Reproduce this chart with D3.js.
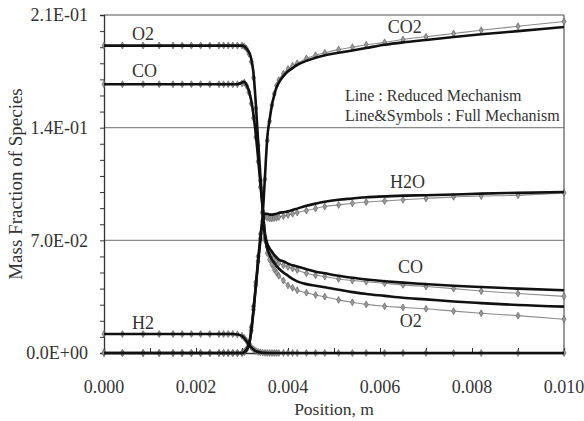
<!DOCTYPE html>
<html><head><meta charset="utf-8">
<script src="https://cdn.jsdelivr.net/npm/d3@7"></script>
<style>
body{margin:0;background:#fff;}
svg{display:block;}
</style></head>
<body><svg id="c" width="584" height="421"></svg>
<script>
// grid positions (m)
const positions = [0, 0.0004, 0.00085, 0.0012, 0.0015, 0.0017, 0.0019, 0.0021, 0.0023, 0.0025,
  0.0026, 0.0027, 0.0028, 0.0029, 0.0030, 0.00305, 0.0031, 0.00315, 0.0032, 0.00325,
  0.0033, 0.00335, 0.0034, 0.00345, 0.0035, 0.00355, 0.0036, 0.00365, 0.0037, 0.00375,
  0.0038, 0.0039, 0.0040, 0.0041, 0.0042, 0.0044, 0.0046, 0.0048, 0.0051, 0.0054,
  0.0057, 0.0061, 0.0065, 0.0070, 0.0076, 0.0082, 0.0090, 0.0100];

// Reduced mechanism (line)
const o2Reduced = [0.191,0.191,0.191,0.191,0.191,0.191,0.191,0.191,0.191,0.191,
  0.191,0.191,0.191,0.191,0.191,0.1905,0.189,0.187,0.183,0.174,
  0.155,0.132,0.110,0.090,0.072,0.065,0.061,0.058,0.056,0.054,
  0.0525,0.050,0.048,0.046,0.0445,0.0428,0.0418,0.0408,0.0393,0.0378,
  0.0367,0.0355,0.0343,0.0333,0.032,0.031,0.0298,0.0288];
const coReduced = [0.167,0.167,0.167,0.167,0.167,0.167,0.167,0.167,0.167,0.167,
  0.167,0.167,0.167,0.167,0.168,0.1685,0.1665,0.163,0.157,0.148,
  0.136,0.121,0.105,0.089,0.074,0.068,0.065,0.063,0.061,0.0595,
  0.058,0.057,0.0555,0.0545,0.0537,0.052,0.0505,0.0495,0.048,0.0467,
  0.0457,0.0446,0.0437,0.0428,0.0418,0.041,0.040,0.039];
const co2Reduced = [0,0,0,0,0,0,0,0,0,0,
  0,0,0,0,0,0.0005,0.002,0.005,0.014,0.027,
  0.042,0.058,0.072,0.086,0.110,0.134,0.145,0.154,0.160,0.165,
  0.168,0.172,0.175,0.177,0.179,0.1815,0.1835,0.185,0.1865,0.188,
  0.1895,0.1915,0.193,0.1945,0.1963,0.198,0.200,0.2025];
const h2oReduced = [0,0,0,0,0,0,0,0,0,0,
  0,0,0,0,0,0.0005,0.002,0.005,0.013,0.026,
  0.041,0.056,0.070,0.082,0.0865,0.0865,0.086,0.086,0.0862,0.0865,
  0.087,0.0875,0.088,0.0888,0.0897,0.0915,0.0928,0.094,0.0952,0.096,
  0.0968,0.0973,0.0978,0.098,0.0985,0.099,0.0995,0.100];
const h2Reduced = [0.0118,0.0118,0.0118,0.0118,0.0118,0.0118,0.0118,0.0118,0.0118,0.0118,
  0.0118,0.0118,0.0118,0.0115,0.0105,0.0092,0.0073,0.0052,0.0035,0.0022,
  0.0012,0.0007,0.0004,0.0002,0.0001,0,0,0,0,0,
  0,0,0,0,0,0,0,0,0,0,
  0,0,0,0,0,0,0,0];

// Full mechanism (line & symbols)
const o2Full = [0.191,0.191,0.191,0.191,0.191,0.191,0.191,0.191,0.191,0.191,
  0.191,0.191,0.191,0.191,0.191,0.1905,0.189,0.186,0.181,0.171,
  0.152,0.129,0.107,0.088,0.070,0.062,0.058,0.055,0.052,0.050,
  0.048,0.045,0.042,0.0405,0.039,0.0375,0.036,0.035,0.033,0.0315,
  0.0302,0.029,0.0283,0.0275,0.026,0.0247,0.0232,0.021];
const coFull = [0.167,0.167,0.167,0.167,0.167,0.167,0.167,0.167,0.167,0.167,
  0.167,0.167,0.167,0.167,0.1675,0.168,0.166,0.162,0.155,0.146,
  0.134,0.119,0.103,0.087,0.072,0.066,0.063,0.061,0.059,0.0575,
  0.056,0.0545,0.0535,0.0525,0.0515,0.0495,0.0483,0.0475,0.046,0.045,
  0.0443,0.0433,0.0423,0.0413,0.040,0.0385,0.037,0.0352];
const co2Full = [0,0,0,0,0,0,0,0,0,0,
  0,0,0,0,0,0.0007,0.0025,0.006,0.016,0.029,
  0.044,0.060,0.074,0.087,0.108,0.132,0.144,0.154,0.161,0.166,
  0.1695,0.1735,0.1765,0.1785,0.180,0.183,0.185,0.1865,0.1885,0.190,
  0.1915,0.193,0.1948,0.1965,0.1985,0.2005,0.203,0.206];
const h2oFull = [0,0,0,0,0,0,0,0,0,0,
  0,0,0,0,0,0.0006,0.0022,0.0055,0.014,0.027,
  0.042,0.057,0.071,0.082,0.085,0.084,0.0835,0.0835,0.0838,0.084,
  0.0845,0.085,0.0858,0.0865,0.0873,0.0885,0.0898,0.091,0.092,0.093,
  0.0938,0.0945,0.0952,0.096,0.097,0.0975,0.098,0.0995];
const h2Full = [0.0118,0.0118,0.0118,0.0118,0.0118,0.0118,0.0118,0.0118,0.0118,0.0118,
  0.0118,0.0118,0.0118,0.0116,0.0107,0.0094,0.0075,0.0054,0.0037,0.0023,
  0.0013,0.0007,0.0004,0.0002,0.0001,0,0,0,0,0,
  0,0,0,0,0,0,0,0,0,0,
  0,0,0,0,0,0,0,0];

const xTicks = [0, 0.002, 0.004, 0.006, 0.008, 0.010];
const yTicks = [0, 0.07, 0.14, 0.21];
const yTickLabels = ["0.0E+00", "7.0E-02", "1.4E-01", "2.1E-01"];
const speciesLabels = [
  {t:"O2", x:0.00061, y:0.1944}, {t:"CO", x:0.00061, y:0.1714},
  {t:"H2", x:0.00061, y:0.0149}, {t:"CO2", x:0.00617, y:0.1988},
  {t:"H2O", x:0.00622, y:0.1025}, {t:"CO", x:0.00639, y:0.0497},
  {t:"O2", x:0.00643, y:0.0161}];
const legendLines = ["Line : Reduced Mechanism", "Line&Symbols : Full Mechanism"];

const FONT = "'Liberation Serif', 'DejaVu Serif', 'Times New Roman', serif";
const svg = d3.select("#c");
const L = 104, R = 564, T = 15, B = 353;
const x = d3.scaleLinear().domain([0, 0.010]).range([L, R]);
const y = d3.scaleLinear().domain([0, 0.21]).range([B, T]);

// gridlines
svg.append("g").selectAll("line").data([0.07, 0.14, 0.21]).join("line")
  .attr("x1", L).attr("x2", R).attr("y1", d => y(d)).attr("y2", d => y(d))
  .attr("stroke", "#8a8a8a").attr("stroke-width", 1.3);
// right border
svg.append("line").attr("x1", R).attr("x2", R).attr("y1", T).attr("y2", B)
  .attr("stroke", "#555").attr("stroke-width", 1.2);

// axes
const yAxis = d3.axisLeft(y).tickValues(d3.range(0, 0.2101, 0.01)).tickSize(4).tickFormat("");
const gy = svg.append("g").attr("transform", `translate(${L},0)`).call(yAxis);
gy.selectAll("path,line").attr("stroke", "#333");
gy.select(".domain").attr("stroke-width", 1.3);
svg.append("g").selectAll("text").data(yTicks).join("text")
  .attr("x", 88).attr("y", d => y(d)).attr("dy", "0.35em").attr("text-anchor", "end")
  .attr("font-family", FONT).attr("fill", "#333")
  .attr("font-size", 18).text((d, i) => yTickLabels[i]);

const xAxis = d3.axisBottom(x).tickValues(d3.range(0, 0.01001, 0.001)).tickSize(-5).tickFormat("");
const gx = svg.append("g").attr("transform", `translate(0,${B})`).call(xAxis);
gx.selectAll("path,line").attr("stroke", "#333");
gx.select(".domain").attr("stroke-width", 1.3);
svg.append("g").selectAll("text").data(xTicks).join("text")
  .attr("x", d => x(d)).attr("y", 393).attr("text-anchor", "middle")
  .attr("font-family", FONT).attr("fill", "#333")
  .attr("font-size", 18).text(d => d.toFixed(3));

svg.append("text").attr("x", (L + R) / 2).attr("y", 415).attr("text-anchor", "middle")
  .attr("font-family", FONT).attr("fill", "#333")
  .attr("font-size", 17.5).text("Position, m");
svg.append("text").attr("transform", `translate(22,${(T + B) / 2}) rotate(-90)`)
  .attr("font-family", FONT).attr("fill", "#333")
  .attr("text-anchor", "middle").attr("font-size", 19).text("Mass Fraction of Species");

// series
const fullSeries = [o2Full, coFull, co2Full, h2oFull, h2Full];
const redSeries = [o2Reduced, coReduced, co2Reduced, h2oReduced, h2Reduced];
const line = d3.line().x((d, i) => x(positions[i])).y(d => y(d)).curve(d3.curveMonotoneX);

const gFull = svg.append("g");
fullSeries.forEach(s => {
  gFull.append("path").attr("d", line(s)).attr("fill", "none")
    .attr("stroke", "#8c8c8c").attr("stroke-width", 1.1);
});
const sym = d3.symbol().type(d3.symbolDiamond).size(14);
fullSeries.forEach(s => {
  gFull.append("g").selectAll("path").data(s).join("path")
    .attr("transform", (d, i) => `translate(${x(positions[i])},${y(d)})`)
    .attr("d", sym).attr("fill", "#9a9a9a").attr("stroke", "#555").attr("stroke-width", 0.6);
});
redSeries.forEach(s => {
  svg.append("path").attr("d", line(s)).attr("fill", "none")
    .attr("stroke", "#111").attr("stroke-width", 2.6);
});

// labels
svg.append("g").selectAll("text").data(speciesLabels).join("text")
  .attr("font-family", FONT).attr("fill", "#333")
  .attr("x", d => x(d.x)).attr("y", d => y(d.y)).attr("font-size", 18).text(d => d.t);
svg.append("g").selectAll("text").data(legendLines).join("text")
  .attr("font-family", FONT).attr("fill", "#333")
  .attr("x", x(0.00524)).attr("y", (d, i) => y(0.1565) + i * 20)
  .attr("font-size", 16).text(d => d);
</script></body></html>
